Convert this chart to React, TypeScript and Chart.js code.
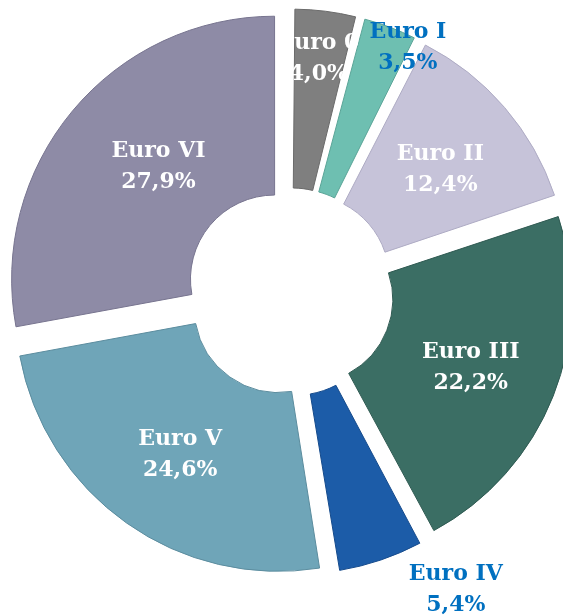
import React, { useEffect, useRef } from "react";
import { Chart, registerables } from "chart.js";

Chart.register(...registerables);

const categories = ["Euro 0", "Euro I", "Euro II", "Euro III", "Euro IV", "Euro V", "Euro VI"];
const shares = [4.0, 3.5, 12.4, 22.2, 5.4, 24.6, 27.9];
const sliceColors = ["#7f7f7f", "#6ebfb1", "#c6c3d9", "#3b6e64", "#1c5ca8", "#6fa5b8", "#8e8ba6"];
const edgeColors = ["#6a6a6a", "#5aa497", "#aeabc4", "#2f5a52", "#164b8c", "#5b8c9e", "#77748f"];
const labelColors = ["#ffffff", "#0070c0", "#ffffff", "#ffffff", "#0070c0", "#ffffff", "#ffffff"];

const OFFSET = 80; // chart.js translates each arc by offset / 4

// label nudges (px) relative to each exploded slice's centre point
const labelNudge: Record<string, [number, number]> = {
  "Euro 0": [6, -57],
  "Euro I": [55, -78],
  "Euro II": [8, 0],
  "Euro III": [1, 4],
  "Euro IV": [108, 127],
  "Euro V": [2, 4],
  "Euro VI": [17, -2],
};

const uniformExplode = {
  id: "uniformExplode",
  afterDatasetUpdate(chart: any, args: any) {
    const meta = args.meta;
    meta.data.forEach((arc: any) => {
      const c = arc.circumference || 0;
      const fix = 1 - Math.sin(Math.min(Math.PI, c));
      const ro = (OFFSET / 4) * fix;
      arc.outerRadius -= ro;
      arc.innerRadius -= ro;
    });
  },
};

const sliceLabels = {
  id: "sliceLabels",
  afterDatasetsDraw(chart: any) {
    const ctx = chart.ctx;
    const meta = chart.getDatasetMeta(0);
    ctx.save();
    ctx.font = 'bold 22px "DejaVu Serif"';
    ctx.textAlign = "center";
    ctx.textBaseline = "middle";
    meta.data.forEach((arc: any, i: number) => {
      const mid = (arc.startAngle + arc.endAngle) / 2;
      const r = (arc.innerRadius + arc.outerRadius) / 2 + OFFSET / 4;
      const nudge = labelNudge[categories[i]] || [0, 0];
      const x = arc.x + Math.cos(mid) * r + nudge[0];
      const y = arc.y + Math.sin(mid) * r + nudge[1];
      ctx.fillStyle = labelColors[i];
      ctx.fillText(categories[i], x, y - 15);
      ctx.fillText(shares[i].toFixed(1).replace(".", ",") + "%", x, y + 16);
    });
    ctx.restore();
  },
};

export default function App() {
  const ref = useRef<HTMLCanvasElement>(null);
  useEffect(() => {
    if (!ref.current) return;
    const chart = new Chart(ref.current, {
      type: "doughnut",
      data: {
        labels: categories,
        datasets: [
          {
            data: shares,
            backgroundColor: sliceColors,
            borderColor: edgeColors,
            borderWidth: 1,
            offset: OFFSET,
            hoverOffset: OFFSET,
            clip: false,
          } as any,
        ],
      },
      options: {
        responsive: false,
        animation: false,
        devicePixelRatio: 1,
        radius: 263,
        cutout: "32%",
        layout: { padding: { left: 17, right: 0, top: 0, bottom: 31 } },
        plugins: {
          legend: { display: false },
          tooltip: { enabled: false },
        },
        events: [],
      } as any,
      plugins: [uniformExplode, sliceLabels],
    });
    return () => chart.destroy();
  }, []);
  return (
    <div style={{ position: "fixed", left: 0, top: 0, width: 563, height: 615, overflow: "hidden", background: "#fff" }}>
      <canvas ref={ref} width={563} height={615} style={{ display: "block", width: 563, height: 615 }} />
    </div>
  );
}
